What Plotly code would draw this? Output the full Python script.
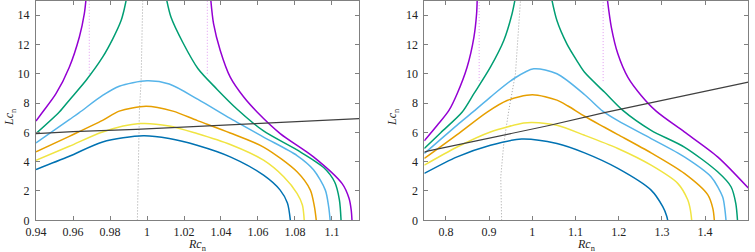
import plotly.graph_objects as go

# ---------------- data: left panel ----------------
blueL_x = [0.94, 0.958, 0.976, 0.998, 1.012, 1.027, 1.045, 1.063, 1.072, 1.0759, 1.0775]
blueL_y = [3.47, 4.37, 5.35, 5.77, 5.58, 5.12, 4.33, 3.08, 2.06, 1.18, 0]

yellowL_x = [0.94, 0.958, 0.976, 0.996, 1.012, 1.027, 1.045, 1.063, 1.0739, 1.0811, 1.084, 1.085]
yellowL_y = [4.1, 5.05, 6.03, 6.6, 6.44, 5.92, 5.17, 4.1, 2.97, 1.84, 1.04, 0]

orangeL_x = [0.94, 0.958, 0.976, 0.985, 0.9995, 1.014, 1.027, 1.045, 1.063, 1.0811, 1.0883, 1.0905, 1.0915]
orangeL_y = [4.67, 5.73, 6.82, 7.45, 7.78, 7.45, 6.82, 5.96, 5.0, 3.31, 2.06, 0.93, 0]

lblueL_x = [0.94, 0.958, 0.9634, 0.976, 0.985, 1.0, 1.012, 1.0276, 1.045, 1.063, 1.0811, 1.090, 1.0964, 1.0982, 1.099]
lblueL_y = [5.28, 6.87, 7.35, 8.52, 9.15, 9.52, 9.3, 8.25, 6.95, 5.68, 4.42, 3.45, 2.06, 0.93, 0]

greenL_x = [0.94, 0.9526, 0.958, 0.967, 0.976, 0.9815, 0.986, 0.9875, 0.9892, None,
            1.0102, 1.013, 1.0193, 1.0276, 1.0378, 1.0486, 1.063, 1.0811, 1.0955, 1.1015, 1.104, 1.1049]
greenL_y = [5.92, 7.39, 8.2, 9.54, 11.13, 12.38, 13.63, 14.3, 15.3, None,
            15.3, 13.85, 12.15, 10.34, 8.95, 7.6, 6.1, 4.8, 3.6, 2.6, 1.4, 0]

purpleL_x = [0.94, 0.9436, 0.9508, 0.958, 0.9634, 0.9661, 0.9672, None,
             1.0343, 1.036, 1.0396, 1.045, 1.0523, 1.0595, 1.072, 1.090, 1.1055, 1.1092, 1.1104, 1.1108]
purpleL_y = [6.78, 7.39, 8.64, 10.45, 12.49, 14.08, 15.3, None,
             15.3, 13.4, 11.59, 9.77, 8.41, 7.39, 5.92, 4.33, 2.5, 1.5, 0.7, 0]

blackL_x = [0.94, 0.96, 0.994, 1.0276, 1.115]
blackL_y = [5.92, 6.05, 6.21, 6.41, 6.94]

grayL_x = [0.9977, 0.9968, 0.9959, 0.9948]
grayL_y = [15, 9.5, 7.5, 0]

pinkL_x = [0.9688, 0.9688, None, 1.0326, 1.0326]
pinkL_y = [10, 15, None, 10, 15]

# ---------------- data: right panel ----------------
blueR_x = [0.75, 0.826, 0.903, 0.975, 1.057, 1.121, 1.198, 1.275, 1.302, 1.311, 1.3135]
blueR_y = [3.2, 4.33, 5.12, 5.55, 5.24, 4.6, 3.54, 2.06, 0.93, 0.3, 0]

yellowR_x = [0.75, 0.826, 0.903, 0.98, 1.0, 1.057, 1.121, 1.198, 1.275, 1.3366, 1.36, 1.366, 1.369]
yellowR_y = [3.76, 5.0, 6.03, 6.64, 6.68, 6.48, 5.8, 4.9, 3.76, 2.52, 1.38, 0.7, 0]

orangeR_x = [0.75, 0.826, 0.8955, 0.9417, 1.0, 1.057, 1.0826, 1.121, 1.167, 1.198, 1.275, 1.352, 1.406, 1.418, 1.4214]
orangeR_y = [4.22, 5.85, 7.39, 8.18, 8.57, 8.2, 7.8, 7.1, 6.35, 5.85, 4.6, 3.2, 1.75, 0.8, 0]

lblueR_x = [0.75, 0.826, 0.8648, 0.903, 0.957, 1.0034, 1.057, 1.122, 1.163, 1.198, 1.275, 1.352, 1.4137, 1.4405, 1.446, 1.4484]
lblueR_y = [4.56, 6.5, 7.45, 8.41, 9.66, 10.34, 10.0, 8.55, 7.45, 6.8, 5.58, 4.33, 2.97, 1.6, 0.7, 0]

greenR_x = [0.75, 0.788, 0.8378, 0.8648, 0.903, 0.934, 0.953, 0.9615, None,
            1.0435, 1.057, 1.080, 1.103, 1.121, 1.167, 1.2096, 1.275, 1.352, 1.429, 1.46, 1.471, 1.475]
greenR_y = [4.9, 5.98, 7.39, 8.64, 10.45, 12.27, 14.08, 15.3, None,
            15.3, 13.63, 12.04, 10.9, 10.1, 8.75, 7.5, 6.14, 5.0, 3.31, 2.29, 1.16, 0]

purpleR_x = [0.75, 0.78, 0.807, 0.826, 0.849, 0.8648, 0.871, 0.8727, None,
             1.1728, 1.183, 1.198, 1.221, 1.252, 1.2867, 1.352, 1.429, 1.5]
purpleR_y = [5.42, 6.48, 7.5, 8.64, 10.45, 12.49, 14.08, 15.3, None,
             15.3, 13.17, 11.36, 9.77, 8.52, 7.45, 6.03, 4.33, 2.2]

blackR_x = [0.75, 0.76, 1.036, 1.167, 1.5]
blackR_y = [4.65, 4.74, 6.45, 7.35, 9.43]

grayR_x = [0.929, 0.927, 0.934, 0.9456, 0.961, 0.9726]
grayR_y = [0, 2.97, 5.24, 7.5, 10.0, 15]

pinkR_x = [0.877, 0.877, None, 1.164, 1.164]
pinkR_y = [9.5, 15, None, 9.5, 15]

# ticks
xL_ticks = [0.94, 0.96, 0.98, 1.0, 1.02, 1.04, 1.06, 1.08, 1.1]
xL_labels = ["0.94", "0.96", "0.98", "1", "1.02", "1.04", "1.06", "1.08", "1.1"]
xR_ticks = [0.8, 0.9, 1.0, 1.1, 1.2, 1.3, 1.4, 1.5]
xR_labels = ["0.8", "0.9", "1", "1.1", "1.2", "1.3", "1.4", "1.5"]
y_ticks = [0, 2, 4, 6, 8, 10, 12, 14]
y_labels = ["0", "2", "4", "6", "8", "10", "12", "14"]
x_title = "<i>Rc</i><sub>n</sub>"
y_title = "<i>Lc</i><sub>n</sub>"

PURPLE = "#9400d3"
GREEN = "#009e73"
LBLUE = "#56b4e9"
ORANGE = "#e69f00"
YELLOW = "#f0e442"
BLUE = "#0072b2"
BLACK = "#404040"
GRAY = "#a0a0a0"
PINK = "#e09af0"

fig = go.Figure()

def add(x, y, color, axis, width=1.5, dash=None, shape="spline"):
    xa, ya = ("x", "y") if axis == 1 else ("x2", "y2")
    line = dict(color=color, width=width)
    if dash:
        line["dash"] = dash
    if shape == "spline":
        line["shape"] = "spline"
        line["smoothing"] = 0.8
    fig.add_trace(go.Scatter(x=x, y=y, mode="lines", line=line, xaxis=xa, yaxis=ya,
                             showlegend=False, hoverinfo="skip", connectgaps=False))

# left
add(pinkL_x, pinkL_y, PINK, 1, width=1, dash="1px,2px", shape="linear")
add(grayL_x, grayL_y, GRAY, 1, width=1, dash="1px,2px", shape="linear")
add(blueL_x, blueL_y, BLUE, 1)
add(yellowL_x, yellowL_y, YELLOW, 1)
add(orangeL_x, orangeL_y, ORANGE, 1)
add(lblueL_x, lblueL_y, LBLUE, 1)
add(greenL_x, greenL_y, GREEN, 1)
add(purpleL_x, purpleL_y, PURPLE, 1)
add(blackL_x, blackL_y, BLACK, 1, width=1.2, shape="linear")
# right
add(pinkR_x, pinkR_y, PINK, 2, width=1, dash="1px,2px", shape="linear")
add(grayR_x, grayR_y, GRAY, 2, width=1, dash="1px,2px", shape="linear")
add(blueR_x, blueR_y, BLUE, 2)
add(yellowR_x, yellowR_y, YELLOW, 2)
add(orangeR_x, orangeR_y, ORANGE, 2)
add(lblueR_x, lblueR_y, LBLUE, 2)
add(greenR_x, greenR_y, GREEN, 2)
add(purpleR_x, purpleR_y, PURPLE, 2)
add(blackR_x, blackR_y, BLACK, 2, width=1.2, shape="linear")

FONT = "Liberation Serif"
axis_common = dict(showline=True, linecolor="#808080", linewidth=1, mirror="ticks",
                   ticks="inside", ticklen=4, tickcolor="#808080", showgrid=False,
                   zeroline=False, tickfont=dict(family=FONT, size=12, color="#222"),
                   automargin=False)

fig.update_layout(
    width=755, height=252,
    margin=dict(l=0, r=0, t=0, b=0),
    paper_bgcolor="white", plot_bgcolor="white",
    font=dict(family=FONT, size=12, color="#222"),
    xaxis=dict(domain=[36/755, 359/755], range=[0.94, 1.1146], tickvals=xL_ticks, ticktext=xL_labels,
               anchor="y", ticklabelstandoff=0, **axis_common),
    yaxis=dict(domain=[1 - 220.3/252, 0.998], range=[0, 15], tickvals=y_ticks, ticktext=y_labels,
               anchor="x", ticklabelstandoff=3, **axis_common),
    xaxis2=dict(domain=[424.3/755, 748.3/755], range=[0.75, 1.5], tickvals=xR_ticks, ticktext=xR_labels,
                anchor="y2", ticklabelstandoff=0, **axis_common),
    yaxis2=dict(domain=[1 - 220.3/252, 0.998], range=[0, 15], tickvals=y_ticks, ticktext=y_labels,
                anchor="x2", ticklabelstandoff=3, **axis_common),
)

tfont = dict(family=FONT, size=12, color="#222")
for xd in ("x domain", "x2 domain"):
    fig.add_annotation(text=x_title, xref=xd, yref="paper", x=0.5, y=0,
                       showarrow=False, font=tfont, xanchor="center", yanchor="bottom",
                       borderpad=0, yshift=-2)
fig.add_annotation(text=y_title, xref="paper", yref="y domain", x=10/755, y=0.47,
                   showarrow=False, font=tfont, textangle=-90, xanchor="center", yanchor="middle")
fig.add_annotation(text=y_title, xref="paper", yref="y2 domain", x=393/755, y=0.47,
                   showarrow=False, font=tfont, textangle=-90, xanchor="center", yanchor="middle")

fig.write_html("out.html", config={"displayModeBar": False},
               post_script="document.body.style.margin='0';document.body.style.padding='0';document.body.style.overflow='hidden';")
